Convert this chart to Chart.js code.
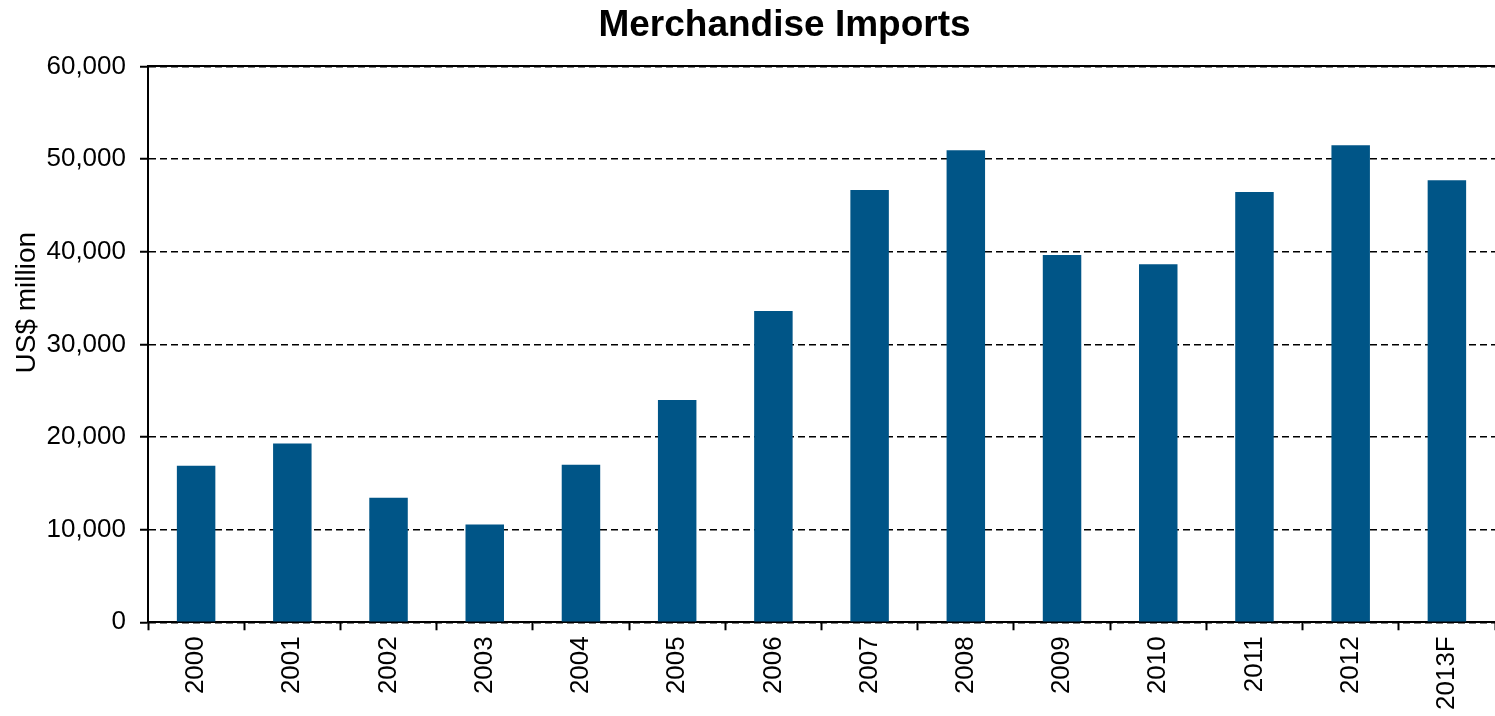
<!DOCTYPE html>
<html>
<head>
<meta charset="utf-8">
<script src="https://cdn.jsdelivr.net/npm/chart.js@4/dist/chart.umd.min.js"></script>
<style>
  html, body { margin: 0; padding: 0; background: #fff; }
  #wrap { width: 1495px; height: 716px; }
</style>
</head>
<body>
<div id="wrap"><canvas id="importsChart"></canvas></div>
<script>
const years = ["2000", "2001", "2002", "2003", "2004", "2005", "2006",
  "2007", "2008", "2009", "2010", "2011", "2012", "2013F"];
const imports = [16900, 19300, 13450, 10550, 17000, 24000, 33600,
  46650, 50950, 39650, 38650, 46450, 51500, 47700];
const yTicks = [0, 10000, 20000, 30000, 40000, 50000, 60000];

const font = "'Liberation Sans', Arial, sans-serif";

// moves the title / y-axis label to where the original sits
const placeLabels = {
  id: "placeLabels",
  afterLayout(chart) {
    chart.titleBlock.left = chart.chartArea.left / 2;
  },
  afterDraw(chart) {
    const ctx = chart.ctx;
    const area = chart.chartArea;
    ctx.save();
    ctx.translate(27, area.top + (area.bottom - area.top) * 0.425);
    ctx.rotate(-Math.PI / 2);
    ctx.font = "28px " + font;
    ctx.fillStyle = "#000";
    ctx.textAlign = "center";
    ctx.textBaseline = "middle";
    ctx.fillText("US$ million", 0, 0);
    ctx.restore();
  }
};

const config = {
  type: "bar",
  data: {
    labels: years,
    datasets: [
      {
        label: "Merchandise Imports",
        data: imports,
        backgroundColor: "#005587",
        borderWidth: 0,
        categoryPercentage: 1,
        barPercentage: 0.4,
      },
    ],
  },
  options: {
    responsive: true,
    maintainAspectRatio: false,
    animation: false,
    layout: {
      padding: { left: 0, right: 0, top: 0, bottom: 0 },
    },
    plugins: {
      legend: { display: false },
      tooltip: { enabled: false },
      title: {
        display: true,
        text: "Merchandise Imports",
        color: "#000",
        font: { family: font, size: 37, weight: "bold" },
        padding: { top: 4, bottom: 10 },
      },
    },
    scales: {
      x: {
        grid: {
          display: true,
          offset: true,
          drawOnChartArea: false,
          drawTicks: true,
          tickLength: 8,
          tickColor: "#000",
          tickWidth: 2,
        },
        border: { display: true, color: "#000", width: 2 },
        ticks: {
          color: "#000",
          font: { family: font, size: 26 },
          maxRotation: 90,
          minRotation: 90,
          padding: 6,
        },
      },
      xTop: {
        position: "top",
        grid: { display: false },
        ticks: { display: false },
        border: { display: true, color: "#000", width: 2 },
      },
      y: {
        min: 0,
        max: 60000,
        afterBuildTicks(scale) {
          scale.ticks = yTicks.map((v) => ({ value: v }));
        },
        afterFit(scale) {
          scale.width = 148;
        },
        grid: {
          color: "#000",
          lineWidth: 1.5,
          tickLength: 8,
          tickColor: "#000",
          tickWidth: 2,
          tickBorderDash: [],
        },
        border: { display: true, color: "#000", width: 2, dash: [7, 4] },
        ticks: {
          color: "#000",
          font: { family: font, size: 26 },
          padding: 14,
          callback: (v) => v.toLocaleString("en-US"),
        },
      },
    },
  },
  plugins: [placeLabels],
};

var importsChart = new Chart(document.getElementById("importsChart"), config);
</script>
</body>
</html>
